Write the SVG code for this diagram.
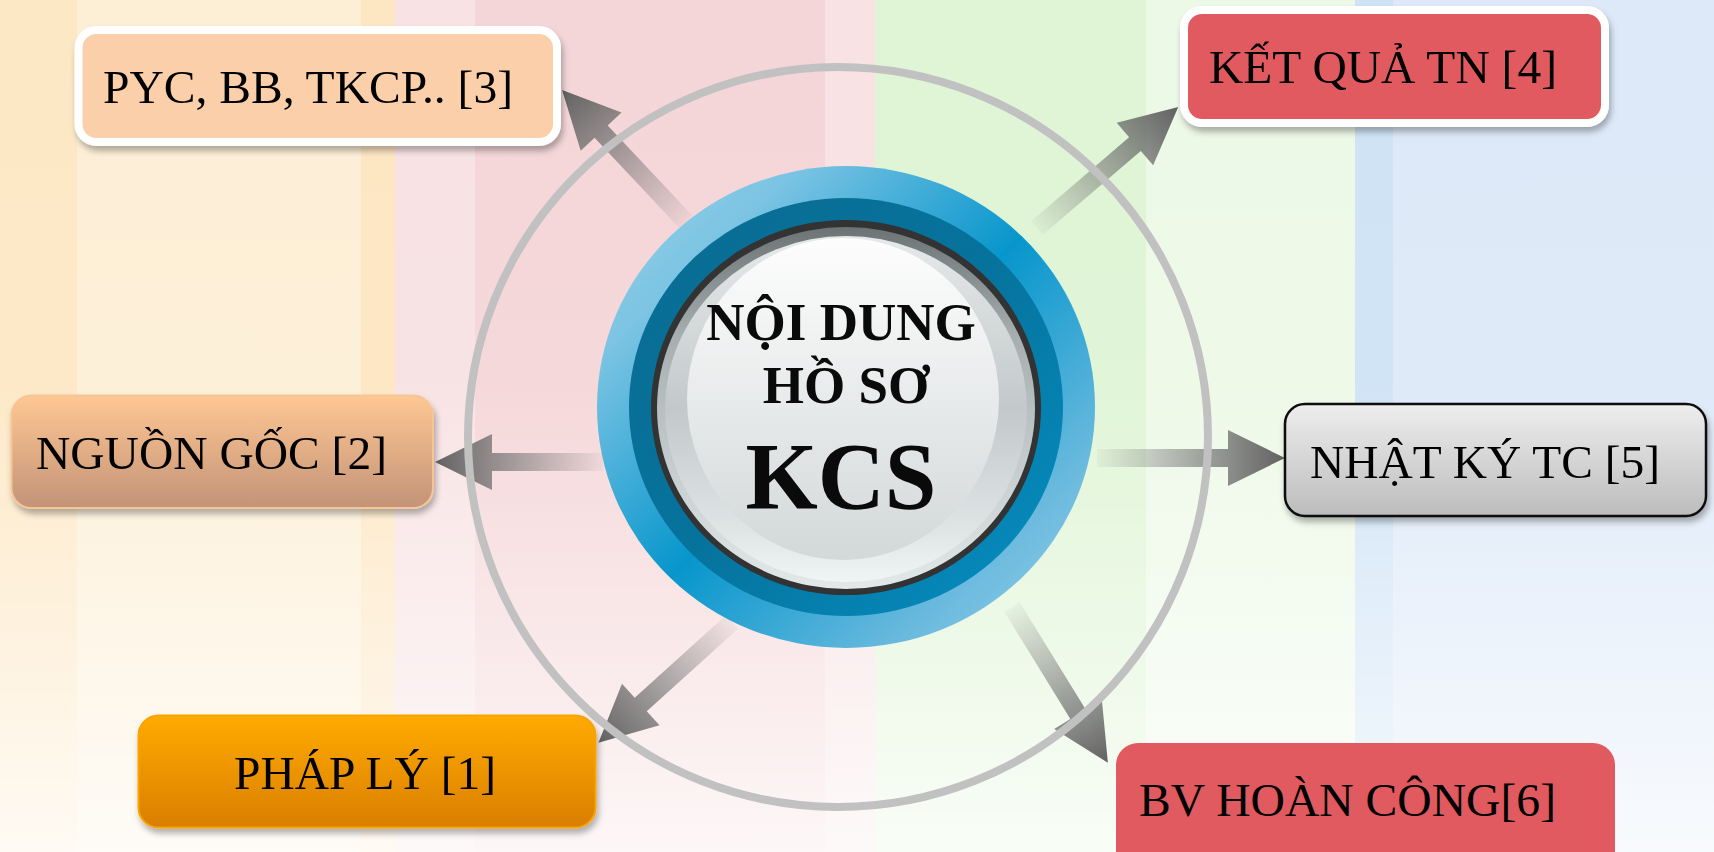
<svg xmlns="http://www.w3.org/2000/svg" width="1714" height="852" viewBox="0 0 1714 852">
<defs>
<linearGradient id="fade" x1="0" y1="0" x2="0" y2="1">
<stop offset="0" stop-color="#fff" stop-opacity="0"/>
<stop offset="0.45" stop-color="#fff" stop-opacity="0.05"/>
<stop offset="1" stop-color="#fff" stop-opacity="0.8"/>
</linearGradient>
<linearGradient id="ag" x1="0" y1="0" x2="1" y2="0">
<stop offset="0" stop-color="#6e6e6e" stop-opacity="0.05"/>
<stop offset="0.55" stop-color="#6a6a6a" stop-opacity="0.6"/>
<stop offset="1" stop-color="#616161" stop-opacity="1"/>
</linearGradient>
<linearGradient id="blueOuter" x1="0" y1="0" x2="1" y2="1">
<stop offset="0" stop-color="#9ad3ea"/>
<stop offset="0.2" stop-color="#7cc4e3"/>
<stop offset="0.5" stop-color="#0796cc"/>
<stop offset="0.8" stop-color="#6bbade"/>
<stop offset="1" stop-color="#9ad3ea"/>
</linearGradient>
<linearGradient id="blueDark" x1="0" y1="0" x2="1" y2="1">
<stop offset="0" stop-color="#0b6c92"/>
<stop offset="0.5" stop-color="#06739d"/>
<stop offset="1" stop-color="#0590c4"/>
</linearGradient>
<linearGradient id="bevel" x1="0" y1="0" x2="0" y2="1">
<stop offset="0" stop-color="#6c7375"/>
<stop offset="0.3" stop-color="#a6aeb0"/>
<stop offset="1" stop-color="#e3e9e9"/>
</linearGradient>
<linearGradient id="disc" x1="0" y1="0" x2="0" y2="1">
<stop offset="0" stop-color="#e6e9e9"/>
<stop offset="0.5" stop-color="#c3c9cb"/>
<stop offset="0.85" stop-color="#dfe5e5"/>
<stop offset="1" stop-color="#f0f4f4"/>
</linearGradient>
<linearGradient id="hl" x1="0" y1="0" x2="0" y2="1">
<stop offset="0" stop-color="#fdfdfd"/>
<stop offset="1" stop-color="#d3d8d9"/>
</linearGradient>
<linearGradient id="gOrig" x1="0" y1="0" x2="0" y2="1">
<stop offset="0" stop-color="#fec793"/>
<stop offset="1" stop-color="#c39378"/>
</linearGradient>
<linearGradient id="gGray" x1="0" y1="0" x2="0" y2="1">
<stop offset="0" stop-color="#eeeeee"/>
<stop offset="1" stop-color="#bcbcbc"/>
</linearGradient>
<linearGradient id="gOrange" x1="0" y1="0" x2="0" y2="1">
<stop offset="0" stop-color="#ffab00"/>
<stop offset="1" stop-color="#d97e00"/>
</linearGradient>
<filter id="sh" x="-10%" y="-20%" width="120%" height="150%">
<feDropShadow dx="2" dy="5" stdDeviation="3" flood-color="#000" flood-opacity="0.3"/>
</filter>
</defs>
<style>
.lbl{font-family:"Liberation Serif","Times New Roman",serif;font-size:47px;fill:#000}
.ctr{font-family:"Liberation Serif","Times New Roman",serif;font-weight:bold;fill:#0a0a0a;text-anchor:middle}
.arr{fill:url(#ag)}
</style>

<g id="background">
<rect x="0" y="0" width="77" height="852" fill="#fde8c5"/>
<rect x="77" y="0" width="284" height="852" fill="#fdefd6"/>
<rect x="361" y="0" width="34" height="852" fill="#fde6c2"/>
<rect x="395" y="0" width="80" height="852" fill="#f8e2e3"/>
<rect x="475" y="0" width="350" height="852" fill="#f5d6d8"/>
<rect x="825" y="0" width="50" height="852" fill="#f8e2e3"/>
<rect x="875" y="0" width="271" height="852" fill="#dff5d5"/>
<rect x="1146" y="0" width="209" height="852" fill="#edf9e7"/>
<rect x="1355" y="0" width="38" height="852" fill="#cfe3f6"/>
<rect x="1393" y="0" width="321" height="852" fill="#dde9f8"/>
<rect x="0" y="0" width="1714" height="852" fill="url(#fade)"/>
</g>

<g id="connectors">
<polygon class="arr" points="0,-9 124,-9 124,-28 181,0 124,28 124,9 0,9" transform="translate(686,222) rotate(-133.2)"/>
<polygon class="arr" points="0,-9 129,-9 129,-28 186,0 129,28 129,9 0,9" transform="translate(1037,228) rotate(-40.6)"/>
<polygon class="arr" points="0,-9 111,-9 111,-28 168,0 111,28 111,9 0,9" transform="translate(603,462) rotate(180)"/>
<polygon class="arr" points="0,-9 131,-9 131,-28 188,0 131,28 131,9 0,9" transform="translate(1097,458)"/>
<polygon class="arr" points="0,-9 123,-9 123,-28 180,0 123,28 123,9 0,9" transform="translate(732,622) rotate(137.9)"/>
<polygon class="arr" points="0,-9 126,-9 126,-28 183,0 126,28 126,9 0,9" transform="translate(1012,607) rotate(58.4)"/>
</g>

<g id="ring">
<circle cx="838" cy="437" r="370" fill="none" stroke="#c1c1c1" stroke-width="8"/>
</g>

<g id="center">
<ellipse cx="846" cy="407" rx="249" ry="241" fill="url(#blueOuter)"/>
<ellipse cx="846" cy="407" rx="217" ry="209" fill="url(#blueDark)"/>
<ellipse cx="846" cy="407.5" rx="195" ry="187.5" fill="#333"/>
<ellipse cx="846" cy="408" rx="189" ry="181" fill="url(#bevel)"/>
<ellipse cx="846" cy="409" rx="181" ry="173" fill="url(#disc)"/>
<ellipse cx="843" cy="399" rx="156" ry="161" fill="url(#hl)"/>
<text class="ctr" x="841" y="340" font-size="53">NỘI DUNG</text>
<text class="ctr" x="846" y="403" font-size="53">HỒ SƠ</text>
<text class="ctr" x="841" y="509" font-size="96" textLength="191" lengthAdjust="spacingAndGlyphs">KCS</text>
</g>

<g id="node-pyc" filter="url(#sh)">
<rect x="78.5" y="30" width="478.5" height="112" rx="18" fill="#fbcfa9" stroke="#fff" stroke-width="8"/>
<text class="lbl" x="103" y="103" textLength="410" lengthAdjust="spacingAndGlyphs">PYC, BB, TKCP.. [3]</text>
</g>

<g id="node-ketqua" filter="url(#sh)">
<rect x="1184" y="10" width="421" height="113" rx="18" fill="#e05a5f" stroke="#fff" stroke-width="8"/>
<text class="lbl" x="1209" y="83" textLength="348" lengthAdjust="spacingAndGlyphs">KẾT QUẢ TN [4]</text>
</g>

<g id="node-nguongoc" filter="url(#sh)">
<rect x="11.5" y="395.5" width="421.5" height="112.5" rx="20" fill="url(#gOrig)" stroke="#f6c596" stroke-width="2"/>
<text class="lbl" x="36" y="469" textLength="351" lengthAdjust="spacingAndGlyphs">NGUỒN GỐC [2]</text>
</g>

<g id="node-nhatky" filter="url(#sh)">
<rect x="1285" y="404" width="421" height="112" rx="20" fill="url(#gGray)" stroke="#111" stroke-width="2.5"/>
<text class="lbl" x="1310" y="478" textLength="350" lengthAdjust="spacingAndGlyphs">NHẬT KÝ TC [5]</text>
</g>

<g id="node-phaply" filter="url(#sh)">
<rect x="138.5" y="715.5" width="457" height="112" rx="20" fill="url(#gOrange)" stroke="#f7a400" stroke-width="2"/>
<text class="lbl" x="234" y="789" textLength="262" lengthAdjust="spacingAndGlyphs">PHÁP LÝ [1]</text>
</g>

<g id="node-bv">
<rect x="1116" y="743" width="499" height="130" rx="22" fill="#e05a5f"/>
<text class="lbl" x="1139" y="816" textLength="417" lengthAdjust="spacingAndGlyphs">BV HOÀN CÔNG[6]</text>
</g>
</svg>
